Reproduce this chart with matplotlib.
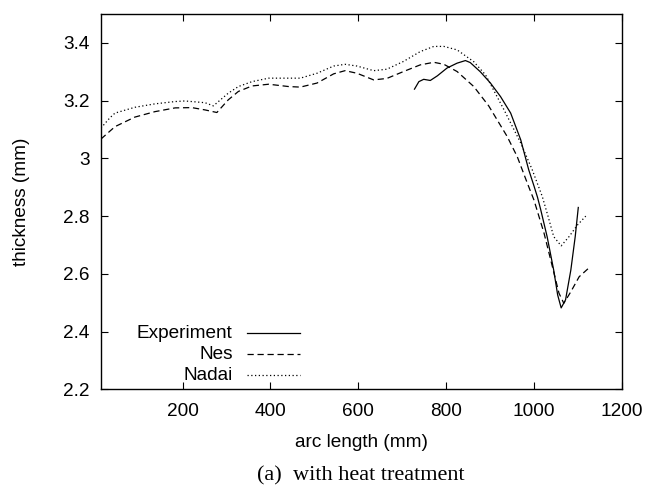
import matplotlib
matplotlib.use("Agg")
from matplotlib import pyplot as plt
from matplotlib.ticker import FormatStrFormatter

plt.rcParams['font.family'] = ['Liberation Sans', 'DejaVu Sans']

# experiment (solid)
exp_x = [728, 738, 749, 764, 780, 802, 825, 844, 855, 878, 901, 924, 947,
         970, 988, 1000, 1008, 1015, 1030, 1045, 1054, 1062, 1072, 1084,
         1094, 1101]
exp_y = [3.240, 3.266, 3.274, 3.270, 3.286, 3.313, 3.330, 3.339, 3.332,
         3.300, 3.261, 3.214, 3.157, 3.064, 2.961, 2.905, 2.866, 2.825,
         2.729, 2.613, 2.527, 2.482, 2.510, 2.613, 2.729, 2.830]

# Nes model (dashed)
nes_x = [14, 46, 91, 137, 183, 221, 251, 278, 304, 327, 358, 396, 441, 468,
         506, 544, 570, 597, 635, 665, 703, 741, 772, 795, 825, 863, 897,
         939, 962, 986, 1000, 1023, 1042, 1057, 1068, 1084, 1103, 1127]
nes_y = [3.067, 3.110, 3.143, 3.162, 3.175, 3.176, 3.168, 3.159, 3.203,
         3.232, 3.251, 3.257, 3.249, 3.247, 3.261, 3.293, 3.304, 3.295,
         3.272, 3.277, 3.301, 3.324, 3.333, 3.326, 3.301, 3.249, 3.182,
         3.076, 3.006, 2.910, 2.856, 2.741, 2.625, 2.533, 2.498, 2.538,
         2.590, 2.623]

# Nadai model (dotted)
nadai_x = [14, 34, 46, 91, 137, 183, 205, 251, 270, 304, 327, 358, 396, 441,
           468, 506, 544, 570, 597, 635, 665, 703, 741, 772, 795, 825, 863,
           890, 932, 970, 996, 1019, 1032, 1045, 1062, 1080, 1099, 1118]
nadai_y = [3.105, 3.140, 3.157, 3.177, 3.189, 3.197, 3.199, 3.193, 3.182,
           3.226, 3.249, 3.266, 3.278, 3.278, 3.278, 3.295, 3.320, 3.326,
           3.320, 3.304, 3.309, 3.336, 3.370, 3.388, 3.388, 3.376, 3.335,
           3.289, 3.168, 3.053, 2.961, 2.868, 2.800, 2.729, 2.697, 2.729,
           2.769, 2.800]

labels = ["Experiment", "Nes", "Nadai"]
styles = ["-", (0, (5, 3)), (0, (1, 2))]

fig = plt.figure(figsize=(6.47, 4.86), dpi=100)
ax = fig.add_axes([0.156, 0.199, 0.805, 0.772])

series = [(exp_x, exp_y), (nes_x, nes_y), (nadai_x, nadai_y)]
for (xs, ys), ls in zip(series, styles):
    ax.plot(xs, ys, color='black', linestyle=ls, linewidth=0.9)

ax.set_xlim(14, 1200)
ax.set_ylim(2.2, 3.5)
ax.set_xticks([200, 400, 600, 800, 1000, 1200])
ax.set_yticks([2.2, 2.4, 2.6, 2.8, 3.0, 3.2, 3.4])
ax.yaxis.set_major_formatter(FormatStrFormatter('%g'))
ax.tick_params(direction='in', top=True, right=True, length=5,
               labelsize=13.7, pad=8)
ax.tick_params(axis='x', pad=10)
for s in ax.spines.values():
    s.set_linewidth(1.0)

ax.set_xlabel("arc length (mm)", fontsize=13.7, labelpad=10)
ax.set_ylabel("thickness (mm)", fontsize=13.7, labelpad=24)

# legend, text right-aligned with line keys on the right
for i, (lab, ls) in enumerate(zip(labels, styles)):
    yy = 0.150 - i * 0.056
    ax.text(0.253, yy, lab, transform=ax.transAxes, ha='right',
            va='center', fontsize=13.7)
    ax.plot([0.281, 0.383], [yy, yy], transform=ax.transAxes,
            color='black', linestyle=ls, linewidth=0.9)

fig.text(0.558, 0.02, "(a)  with heat treatment", ha='center', va='center',
         fontsize=16, family=['Liberation Serif', 'DejaVu Serif'])

fig.savefig("out.png", dpi=100)
